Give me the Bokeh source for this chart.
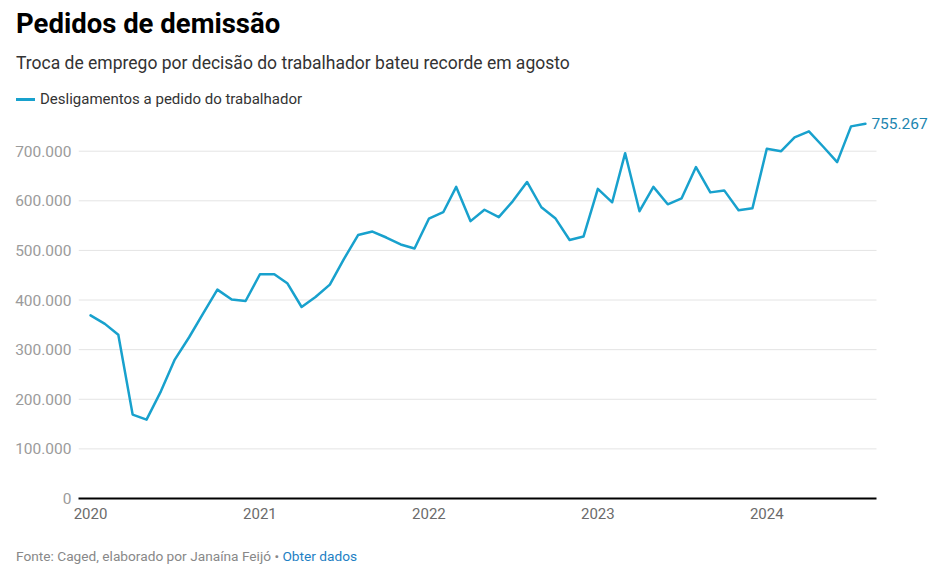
import pandas as pd
from datetime import datetime, timedelta
from bokeh.plotting import figure
from bokeh.layouts import column
from bokeh.models import (Range1d, FixedTicker, Label, Div,
                          DatetimeTickFormatter, ColumnDataSource)
from bokeh.embed import file_html
from bokeh.resources import INLINE

# ---- data ----
title_text = "Pedidos de demissão"
subtitle_text = "Troca de emprego por decisão do trabalhador bateu recorde em agosto"
series_name = "Desligamentos a pedido do trabalhador"
source_text = "Fonte: Caged, elaborado por Janaína Feijó •"
link_text = "Obter dados"

start_month = "2020-01-01"
values = [
    369000, 352000, 330000, 169000, 159000, 216000, 280000, 325000, 374000, 421000, 401000, 398000,
    452000, 452000, 434000, 386000, 406000, 431000, 482000, 531000, 538000, 526000, 512000, 504000,
    564000, 577000, 628000, 559000, 582000, 567000, 599000, 638000, 587000, 565000, 521000, 528000,
    624000, 597000, 696000, 579000, 628000, 593000, 605000, 668000, 617000, 621000, 581000, 585000,
    705000, 700000, 728000, 740000, 710000, 678000, 750000, 755267,
]
dates = pd.date_range(start_month, periods=len(values), freq="MS")
x_tick_years = [2020, 2021, 2022, 2023, 2024]
y_ticks = [0, 100000, 200000, 300000, 400000, 500000, 600000, 700000]

BLUE = "#18a1cd"
LABEL_BLUE = "#1d86b0"
FONT = "Roboto"

# layout constants
W = 936
HEADER_H = 110
LEFT = 78
FRAME_W = W - LEFT
AXIS_START = datetime(2019, 12, 6)
AXIS_END = datetime(2024, 8, 25)
PX_PER_DAY = 798 / (AXIS_END - AXIS_START).days
RANGE_END = AXIS_START + timedelta(days=FRAME_W / PX_PER_DAY)


def fmt(v):
    return f"{v:,}".replace(",", ".")


header = Div(
    text=(
        f'<div style="position:relative;width:{W}px;height:{HEADER_H}px;font-family:Roboto,sans-serif;">'
        f'<div style="position:absolute;left:16px;top:7.8px;font-size:27.5px;line-height:32px;'
        f'font-weight:bold;color:#000;white-space:nowrap;">{title_text}</div>'
        f'<div style="position:absolute;left:16px;top:53px;font-size:17.5px;line-height:21px;'
        f'color:#333;white-space:nowrap;">{subtitle_text}</div>'
        f'<div style="position:absolute;left:16px;top:98px;width:19px;height:2.5px;background:{BLUE};"></div>'
        f'<div style="position:absolute;left:40px;top:90px;font-size:15px;line-height:18px;'
        f'color:#333;white-space:nowrap;">{series_name}</div>'
        f'</div>'
    ),
    width=W, height=HEADER_H, margin=0,
)

footer = Div(
    text=(
        f'<div style="position:relative;width:{W}px;height:30px;font-family:Roboto,sans-serif;">'
        f'<div style="position:absolute;left:16px;top:10px;font-size:13.7px;line-height:17px;'
        f'color:#888;white-space:nowrap;">{source_text} '
        f'<span style="color:#1e7fc4;">{link_text}</span></div>'
        f'</div>'
    ),
    width=W, height=30, margin=0,
)

src = ColumnDataSource(data=dict(date=dates, value=values))

p = figure(
    frame_width=FRAME_W, frame_height=387,
    min_border_left=LEFT, min_border_right=0, min_border_top=1, min_border_bottom=40,
    x_axis_type="datetime",
    x_range=Range1d(AXIS_START, RANGE_END),
    y_range=Range1d(0, 780000),
    output_backend="svg", toolbar_location=None,
    background_fill_color="white", border_fill_color="white",
    outline_line_color=None, margin=0,
)

# grid lines (limited to axis extent)
grid_vals = y_ticks[1:]
p.segment(x0=[AXIS_START] * len(grid_vals), y0=grid_vals,
          x1=[AXIS_END] * len(grid_vals), y1=grid_vals,
          line_color="#e4e4e4", line_width=1)

r = p.line("date", "value", source=src, line_color=BLUE, line_width=2.5,
           line_join="round", line_cap="round")

# y axis
p.yaxis.ticker = FixedTicker(ticks=y_ticks)
p.yaxis.major_label_overrides = {t: fmt(t) for t in y_ticks}
p.yaxis.axis_line_color = None
p.yaxis.major_tick_line_color = None
p.yaxis.minor_tick_line_color = None
p.yaxis.major_tick_out = 0
p.yaxis.major_tick_in = 0
p.yaxis.major_label_standoff = 7
p.yaxis.major_label_text_font = FONT
p.yaxis.major_label_text_font_size = "15.5px"
p.yaxis.major_label_text_color = "#9b9b9b"

# x axis
x_ticks = [datetime(y, 1, 1).timestamp() * 1000 for y in x_tick_years]
p.xaxis.ticker = FixedTicker(ticks=x_ticks)
p.xaxis.formatter = DatetimeTickFormatter(years="%Y", months="%Y", days="%Y",
                                          hours="%Y", minutes="%Y")
p.xaxis.bounds = (AXIS_START, AXIS_END)
p.xaxis.axis_line_color = "black"
p.xaxis.axis_line_width = 2
p.xaxis.major_tick_line_color = None
p.xaxis.minor_tick_line_color = None
p.xaxis.major_tick_out = 0
p.xaxis.major_tick_in = 0
p.xaxis.major_label_standoff = 9
p.xaxis.major_label_text_font = FONT
p.xaxis.major_label_text_font_size = "15px"
p.xaxis.major_label_text_color = "#6b6b6b"

p.xgrid.visible = False
p.ygrid.visible = False

# last value label
p.add_layout(Label(x=dates[-1].timestamp() * 1000, y=values[-1], x_offset=6,
                   text=fmt(values[-1]), text_font=FONT, text_font_size="15.5px",
                   text_color=LABEL_BLUE, text_baseline="middle"))

layout = column(header, p, footer, spacing=0, margin=0)
open("out.html", "w").write(file_html(layout, INLINE))
